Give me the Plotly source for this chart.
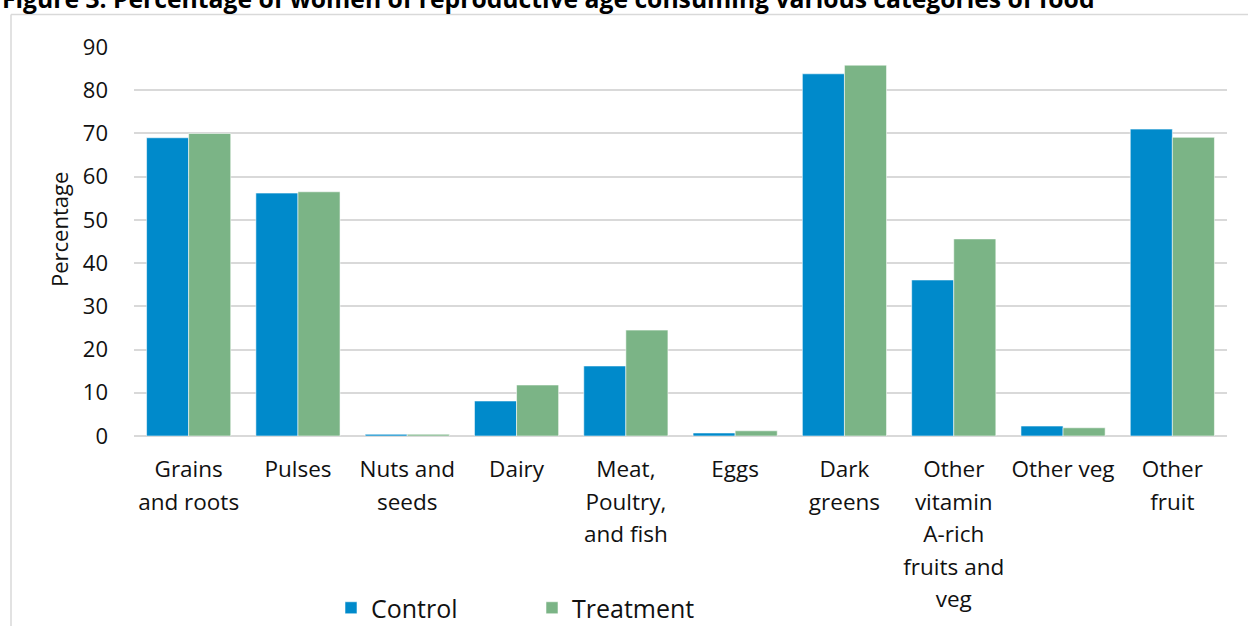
import plotly.graph_objects as go

# Food groups (x-axis categories), one list of lines per label
categories = [
    ["Grains", "and roots"],
    ["Pulses"],
    ["Nuts and", "seeds"],
    ["Dairy"],
    ["Meat,", "Poultry,", "and fish"],
    ["Eggs"],
    ["Dark", "greens"],
    ["Other", "vitamin", "A-rich", "fruits and", "veg"],
    ["Other veg"],
    ["Other", "fruit"],
]

# Percentage of women consuming each food group
control = [69.0, 56.2, 0.4, 8.1, 16.2, 0.7, 83.8, 36.1, 2.3, 71.0]
treatment = [70.0, 56.5, 0.4, 11.8, 24.5, 1.2, 85.8, 45.6, 1.9, 69.1]

y_ticks = [0, 10, 20, 30, 40, 50, 60, 70, 80, 90]

title_text = "Figure 3. Percentage of women of reproductive age consuming various categories of food"

FONT = "Open Sans"
W, H = 1248, 626
L, R, T, B = 134, 21, 47, 190
PW, PH = W - L - R, H - T - B


def px_x(x):
    return (x - L) / PW


def px_y(y):
    return (H - B - y) / PH


keys = [" ".join(c) for c in categories]
tick_text = [
    "<br>".join(f'<span style="font-size:22.5px">{line}</span>' for line in c)
    for c in categories
]

fig = go.Figure()
fig.add_bar(
    x=keys, y=control, name="Control",
    marker=dict(color="#008ACB", line=dict(color="rgba(255,255,255,0.55)", width=1)),
)
fig.add_bar(
    x=keys, y=treatment, name="Treatment",
    marker=dict(color="#7BB486", line=dict(color="rgba(255,255,255,0.55)", width=1)),
)

fig.update_layout(
    width=W, height=H,
    margin=dict(l=L, r=R, t=T, b=B, autoexpand=False),
    paper_bgcolor="white", plot_bgcolor="white",
    font=dict(family=FONT, color="#111111"),
    barmode="group", bargap=0.23, bargroupgap=0,
    showlegend=True,
    legend=dict(
        orientation="h", x=px_x(331), xanchor="left",
        y=px_y(608), yanchor="middle",
        font=dict(size=25, family=FONT, color="#111111"),
        entrywidth=156, entrywidthmode="pixels",
        bgcolor="rgba(0,0,0,0)",
    ),
)

fig.update_xaxes(
    tickmode="array", tickvals=keys, ticktext=tick_text,
    tickfont=dict(size=25, family=FONT, color="#111111"),
    tickangle=0, showgrid=False, zeroline=False,
    showline=False, ticks="", ticklabelstandoff=15,
)
fig.update_yaxes(
    range=[0, 90], tickmode="array", tickvals=y_ticks,
    tickfont=dict(size=22, family=FONT, color="#111111"),
    showgrid=True, gridcolor="#D9D9D9", gridwidth=1.5,
    zeroline=True, zerolinecolor="#D9D9D9", zerolinewidth=1.5,
    showline=False, ticks="", ticklabelstandoff=25,
)

# Y-axis title
fig.add_annotation(
    text="Percentage", textangle=-90,
    xref="paper", yref="paper", x=px_x(59), y=px_y(230),
    xanchor="center", yanchor="middle", showarrow=False,
    font=dict(size=22, family=FONT, color="#111111"),
)

# Figure caption, running off the top edge
fig.add_annotation(
    text=f"<b>{title_text}</b>",
    xref="paper", yref="paper", x=px_x(0), y=px_y(17),
    xanchor="left", yanchor="bottom", showarrow=False,
    font=dict(size=24.7, family=FONT, color="#000000"),
)

# Chart frame
fig.add_shape(type="line", xref="paper", yref="paper",
              x0=px_x(11), x1=px_x(1260), y0=px_y(14.5), y1=px_y(14.5),
              line=dict(color="#D9D9D9", width=1.5), layer="below")
fig.add_shape(type="line", xref="paper", yref="paper",
              x0=px_x(11), x1=px_x(11), y0=px_y(14.5), y1=px_y(640),
              line=dict(color="#D9D9D9", width=1.5), layer="below")

fig.write_html("out.html")
